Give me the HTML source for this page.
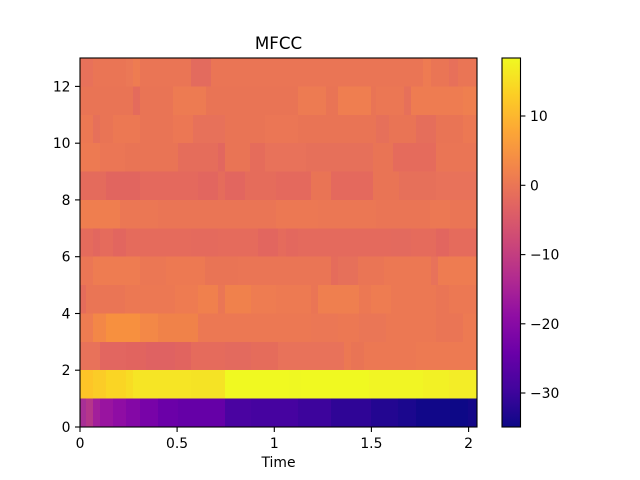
<!DOCTYPE html>
<html><head><meta charset="utf-8"><style>
html,body{margin:0;padding:0;background:#fff;}
svg{display:block;}
text{font-family:"DejaVu Sans","Liberation Sans",sans-serif;fill:#000;}
</style></head><body>
<svg width="640" height="480" viewBox="0 0 640 480" xmlns="http://www.w3.org/2000/svg">
<defs>
<linearGradient id="pl" x1="0" y1="1" x2="0" y2="0">
<stop offset="0" stop-color="#0d0887"/><stop offset="0.1" stop-color="#41049d"/><stop offset="0.2" stop-color="#6a00a8"/><stop offset="0.3" stop-color="#8f0da4"/><stop offset="0.4" stop-color="#b12a90"/><stop offset="0.5" stop-color="#cc4778"/><stop offset="0.6" stop-color="#e16462"/><stop offset="0.7" stop-color="#f2844b"/><stop offset="0.8" stop-color="#fca636"/><stop offset="0.9" stop-color="#fcce25"/><stop offset="1" stop-color="#f0f921"/>
</linearGradient>
</defs>
<g shape-rendering="crispEdges">
<!-- Row 12 -->
<rect x="80" y="58" width="397" height="28.6" fill="#ea7555"/>
<rect x="81" y="58" width="12" height="28.6" fill="#e8715a"/>
<rect x="126" y="58" width="7" height="28.6" fill="#eb7856"/>
<rect x="133" y="58" width="7" height="28.6" fill="#ee7c51"/>
<rect x="191" y="58" width="20" height="28.6" fill="#e36b5e"/>
<rect x="423" y="58" width="8" height="28.6" fill="#ee7b52"/>
<rect x="449" y="58" width="9" height="28.6" fill="#e7705a"/>
<!-- Row 11 -->
<rect x="80" y="86.4" width="397" height="28.6" fill="#e97455"/>
<rect x="133" y="86.4" width="7" height="28.6" fill="#e46b5c"/>
<rect x="173" y="86.4" width="33" height="28.6" fill="#ed7b52"/>
<rect x="298" y="86.4" width="28" height="28.6" fill="#ed7b52"/>
<rect x="338" y="86.4" width="33" height="28.6" fill="#ef7e50"/>
<rect x="376" y="86.4" width="28" height="28.6" fill="#eb7754"/>
<rect x="404" y="86.4" width="7" height="28.6" fill="#e6705a"/>
<rect x="411" y="86.4" width="52" height="28.6" fill="#ee7c51"/>
<rect x="463" y="86.4" width="14" height="28.6" fill="#ef7f4f"/>
<!-- Row 10 -->
<rect x="80" y="114.8" width="397" height="28.6" fill="#e97455"/>
<rect x="80" y="114.8" width="13" height="28.6" fill="#ec7853"/>
<rect x="93" y="114.8" width="7" height="28.6" fill="#e6705a"/>
<rect x="113" y="114.8" width="27" height="28.6" fill="#ec7853"/>
<rect x="173" y="114.8" width="20" height="28.6" fill="#ec7754"/>
<rect x="193" y="114.8" width="32" height="28.6" fill="#e7715a"/>
<rect x="265" y="114.8" width="33" height="28.6" fill="#eb7655"/>
<rect x="376" y="114.8" width="13" height="28.6" fill="#e6705a"/>
<rect x="416" y="114.8" width="20" height="28.6" fill="#e56e5b"/>
<rect x="463" y="114.8" width="14" height="28.6" fill="#ec7853"/>
<!-- Row 9 -->
<rect x="80" y="143.2" width="397" height="28.6" fill="#e97455"/>
<rect x="80" y="143.2" width="20" height="28.6" fill="#ed7a52"/>
<rect x="100" y="143.2" width="25" height="28.6" fill="#eb7655"/>
<rect x="178" y="143.2" width="40" height="28.6" fill="#e56d5b"/>
<rect x="218" y="143.2" width="7" height="28.6" fill="#e2675f"/>
<rect x="250" y="143.2" width="15" height="28.6" fill="#e56c5b"/>
<rect x="265" y="143.2" width="41" height="28.6" fill="#e8725a"/>
<rect x="306" y="143.2" width="67" height="28.6" fill="#e6705a"/>
<rect x="393" y="143.2" width="43" height="28.6" fill="#e56b5c"/>
<rect x="436" y="143.2" width="41" height="28.6" fill="#ea7555"/>
<!-- Row 8 -->
<rect x="80" y="171.5" width="397" height="28.6" fill="#e4695d"/>
<rect x="80" y="171.5" width="26" height="28.6" fill="#e46b5c"/>
<rect x="106" y="171.5" width="34" height="28.6" fill="#e1655f"/>
<rect x="198" y="171.5" width="20" height="28.6" fill="#e2665f"/>
<rect x="218" y="171.5" width="7" height="28.6" fill="#e56c5b"/>
<rect x="225" y="171.5" width="20" height="28.6" fill="#e2665f"/>
<rect x="245" y="171.5" width="31" height="28.6" fill="#e56c5b"/>
<rect x="311" y="171.5" width="20" height="28.6" fill="#e97455"/>
<rect x="373" y="171.5" width="26" height="28.6" fill="#e97455"/>
<rect x="399" y="171.5" width="37" height="28.6" fill="#e6705a"/>
<rect x="436" y="171.5" width="41" height="28.6" fill="#e8725a"/>
<!-- Row 7 -->
<rect x="80" y="199.9" width="397" height="28.6" fill="#ea7555"/>
<rect x="80" y="199.9" width="40" height="28.6" fill="#ef7e4f"/>
<rect x="120" y="199.9" width="38" height="28.6" fill="#eb7754"/>
<rect x="276" y="199.9" width="42" height="28.6" fill="#ec7853"/>
<rect x="318" y="199.9" width="58" height="28.6" fill="#eb7754"/>
<rect x="430" y="199.9" width="20" height="28.6" fill="#ec7853"/>
<!-- Row 6 -->
<rect x="80" y="228.3" width="397" height="28.6" fill="#e56b5c"/>
<rect x="93" y="228.3" width="7" height="28.6" fill="#e2675f"/>
<rect x="113" y="228.3" width="13" height="28.6" fill="#e2665f"/>
<rect x="191" y="228.3" width="27" height="28.6" fill="#e46a5d"/>
<rect x="258" y="228.3" width="20" height="28.6" fill="#e2665f"/>
<rect x="286" y="228.3" width="12" height="28.6" fill="#e3685e"/>
<rect x="298" y="228.3" width="93" height="28.6" fill="#e46a5d"/>
<rect x="391" y="228.3" width="20" height="28.6" fill="#e36a5e"/>
<rect x="436" y="228.3" width="13" height="28.6" fill="#e2665f"/>
<!-- Row 5 -->
<rect x="80" y="256.7" width="397" height="28.6" fill="#ea7555"/>
<rect x="80" y="256.7" width="13" height="28.6" fill="#eb7655"/>
<rect x="93" y="256.7" width="47" height="28.6" fill="#ee7c51"/>
<rect x="140" y="256.7" width="26" height="28.6" fill="#eb7754"/>
<rect x="166" y="256.7" width="39" height="28.6" fill="#ed7952"/>
<rect x="205" y="256.7" width="33" height="28.6" fill="#e97455"/>
<rect x="331" y="256.7" width="7" height="28.6" fill="#e56c5b"/>
<rect x="338" y="256.7" width="20" height="28.6" fill="#e6705a"/>
<rect x="384" y="256.7" width="47" height="28.6" fill="#ec7853"/>
<rect x="431" y="256.7" width="7" height="28.6" fill="#e8725a"/>
<rect x="438" y="256.7" width="39" height="28.6" fill="#ee7c51"/>
<!-- Row 4 -->
<rect x="80" y="285.1" width="397" height="28.6" fill="#ec7853"/>
<rect x="80" y="285.1" width="6" height="28.6" fill="#e56c5b"/>
<rect x="86" y="285.1" width="39" height="28.6" fill="#ea7555"/>
<rect x="175" y="285.1" width="23" height="28.6" fill="#ee7b51"/>
<rect x="198" y="285.1" width="20" height="28.6" fill="#f0804d"/>
<rect x="218" y="285.1" width="7" height="28.6" fill="#ea7655"/>
<rect x="225" y="285.1" width="26" height="28.6" fill="#f0814c"/>
<rect x="251" y="285.1" width="25" height="28.6" fill="#ee7c51"/>
<rect x="276" y="285.1" width="35" height="28.6" fill="#ed7a52"/>
<rect x="311" y="285.1" width="7" height="28.6" fill="#ea7555"/>
<rect x="318" y="285.1" width="41" height="28.6" fill="#ef7f4f"/>
<rect x="371" y="285.1" width="20" height="28.6" fill="#ee7c51"/>
<rect x="436" y="285.1" width="13" height="28.6" fill="#ea7555"/>
<!-- Row 3 -->
<rect x="80" y="313.5" width="397" height="28.6" fill="#ec7853"/>
<rect x="80" y="313.5" width="13" height="28.6" fill="#ee7c51"/>
<rect x="93" y="313.5" width="13" height="28.6" fill="#f38747"/>
<rect x="106" y="313.5" width="34" height="28.6" fill="#f7903f"/>
<rect x="140" y="313.5" width="18" height="28.6" fill="#f38847"/>
<rect x="158" y="313.5" width="40" height="28.6" fill="#f08249"/>
<rect x="311" y="313.5" width="27" height="28.6" fill="#eb7755"/>
<rect x="359" y="313.5" width="27" height="28.6" fill="#ea7656"/>
<rect x="436" y="313.5" width="27" height="28.6" fill="#ea7555"/>
<rect x="463" y="313.5" width="14" height="28.6" fill="#ed7a52"/>
<!-- Row 2 -->
<rect x="80" y="341.8" width="397" height="28.6" fill="#e8725a"/>
<rect x="100" y="341.8" width="26" height="28.6" fill="#e26660"/>
<rect x="126" y="341.8" width="20" height="28.6" fill="#e1645f"/>
<rect x="146" y="341.8" width="29" height="28.6" fill="#df6262"/>
<rect x="175" y="341.8" width="16" height="28.6" fill="#e1645f"/>
<rect x="191" y="341.8" width="34" height="28.6" fill="#e56b5c"/>
<rect x="225" y="341.8" width="26" height="28.6" fill="#e36a5e"/>
<rect x="251" y="341.8" width="27" height="28.6" fill="#e56c5b"/>
<rect x="344" y="341.8" width="7" height="28.6" fill="#ec7853"/>
<rect x="351" y="341.8" width="13" height="28.6" fill="#e97455"/>
<rect x="364" y="341.8" width="52" height="28.6" fill="#ec7853"/>
<rect x="416" y="341.8" width="61" height="28.6" fill="#ed7a52"/>
<!-- Row 1 -->
<rect x="80" y="370.2" width="397" height="28.6" fill="#f0f921"/>
<rect x="80" y="370.2" width="13" height="28.6" fill="#fdc527"/>
<rect x="93" y="370.2" width="13" height="28.6" fill="#fbcc27"/>
<rect x="106" y="370.2" width="20" height="28.6" fill="#fad524"/>
<rect x="126" y="370.2" width="7" height="28.6" fill="#f8dc24"/>
<rect x="133" y="370.2" width="58" height="28.6" fill="#f6e525"/>
<rect x="191" y="370.2" width="34" height="28.6" fill="#f5e325"/>
<rect x="289" y="370.2" width="12" height="28.6" fill="#eff822"/>
<rect x="369" y="370.2" width="54" height="28.6" fill="#f1f524"/>
<rect x="423" y="370.2" width="26" height="28.6" fill="#f2f125"/>
<rect x="449" y="370.2" width="28" height="28.6" fill="#f3ed27"/>
<!-- Row 0 -->
<rect x="80" y="398.6" width="6" height="28.4" fill="#a82f96"/>
<rect x="86" y="398.6" width="7" height="28.4" fill="#b5368a"/>
<rect x="93" y="398.6" width="7" height="28.4" fill="#a21f9b"/>
<rect x="100" y="398.6" width="13" height="28.4" fill="#9914a0"/>
<rect x="113" y="398.6" width="13" height="28.4" fill="#8f0da4"/>
<rect x="126" y="398.6" width="14" height="28.4" fill="#8408a6"/>
<rect x="140" y="398.6" width="18" height="28.4" fill="#7803a8"/>
<rect x="158" y="398.6" width="20" height="28.4" fill="#6b00a8"/>
<rect x="178" y="398.6" width="47" height="28.4" fill="#6500a7"/>
<rect x="225" y="398.6" width="26" height="28.4" fill="#4a03a1"/>
<rect x="251" y="398.6" width="47" height="28.4" fill="#4603a0"/>
<rect x="298" y="398.6" width="33" height="28.4" fill="#3d049c"/>
<rect x="331" y="398.6" width="40" height="28.4" fill="#2f0596"/>
<rect x="371" y="398.6" width="27" height="28.4" fill="#230691"/>
<rect x="398" y="398.6" width="18" height="28.4" fill="#1b078e"/>
<rect x="416" y="398.6" width="34" height="28.4" fill="#110789"/>
<rect x="450" y="398.6" width="18" height="28.4" fill="#0d0887"/>
<rect x="468" y="398.6" width="9" height="28.4" fill="#140788"/>
</g>
<!-- axes frame -->
<rect x="80" y="58" width="397" height="369" fill="none" stroke="#000" stroke-width="1.1"/>
<!-- x ticks -->
<g stroke="#000" stroke-width="1.1">
<line x1="80" y1="427" x2="80" y2="432"/>
<line x1="177.1" y1="427" x2="177.1" y2="432"/>
<line x1="274.3" y1="427" x2="274.3" y2="432"/>
<line x1="371.4" y1="427" x2="371.4" y2="432"/>
<line x1="468.6" y1="427" x2="468.6" y2="432"/>
<!-- y ticks -->
<line x1="75" y1="427" x2="80" y2="427"/>
<line x1="75" y1="370.2" x2="80" y2="370.2"/>
<line x1="75" y1="313.5" x2="80" y2="313.5"/>
<line x1="75" y1="256.7" x2="80" y2="256.7"/>
<line x1="75" y1="199.9" x2="80" y2="199.9"/>
<line x1="75" y1="143.2" x2="80" y2="143.2"/>
<line x1="75" y1="86.4" x2="80" y2="86.4"/>
</g>
<g font-size="13.9" text-anchor="middle">
<text x="80" y="448">0</text>
<text x="177.1" y="448">0.5</text>
<text x="274.3" y="448">1</text>
<text x="371.4" y="448">1.5</text>
<text x="468.6" y="448">2</text>
<text x="278.5" y="467">Time</text>
</g>
<g font-size="13.9" text-anchor="end">
<text x="70.5" y="432">0</text>
<text x="70.5" y="375.2">2</text>
<text x="70.5" y="318.5">4</text>
<text x="70.5" y="261.7">6</text>
<text x="70.5" y="204.9">8</text>
<text x="70.5" y="148.2">10</text>
<text x="70.5" y="91.4">12</text>
</g>
<text x="278.5" y="49" font-size="16.7" text-anchor="middle">MFCC</text>
<!-- colorbar -->
<rect x="502" y="58" width="18.5" height="369" fill="url(#pl)"/>
<rect x="502" y="58" width="18.5" height="369" fill="none" stroke="#000" stroke-width="1.1"/>
<g stroke="#000" stroke-width="1.1">
<line x1="520.5" y1="116" x2="525.4" y2="116"/>
<line x1="520.5" y1="185.3" x2="525.4" y2="185.3"/>
<line x1="520.5" y1="254.6" x2="525.4" y2="254.6"/>
<line x1="520.5" y1="323.8" x2="525.4" y2="323.8"/>
<line x1="520.5" y1="393" x2="525.4" y2="393"/>
</g>
<g font-size="13.9" text-anchor="start">
<text x="530" y="121">10</text>
<text x="530" y="190.3">0</text>
<text x="530" y="259.6">−10</text>
<text x="530" y="328.8">−20</text>
<text x="530" y="398">−30</text>
</g>
</svg>
</body></html>
